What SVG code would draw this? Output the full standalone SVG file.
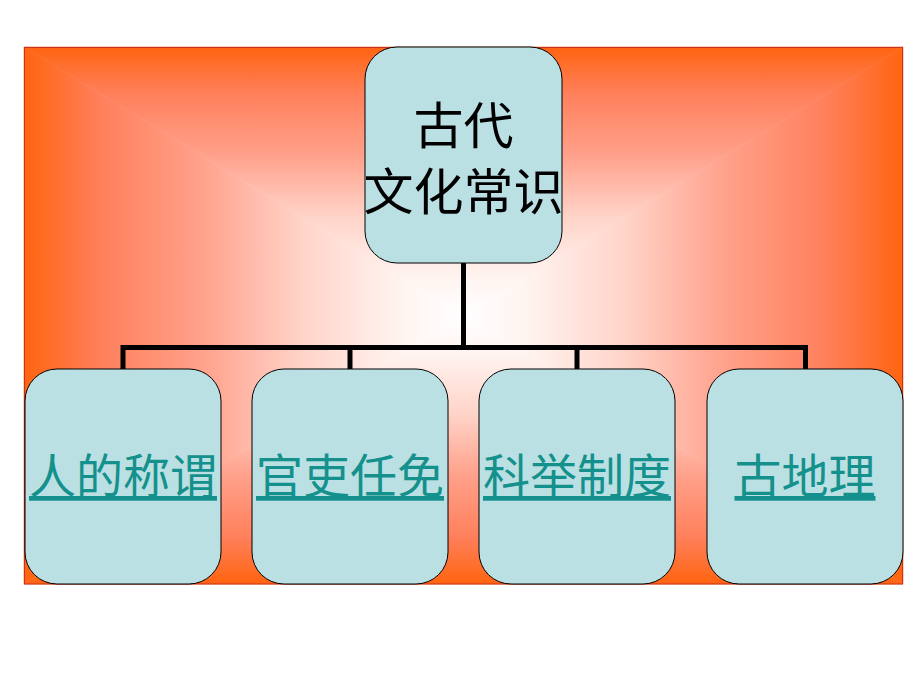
<svg xmlns="http://www.w3.org/2000/svg" width="920" height="690" viewBox="0 0 920 690">
<defs>
<linearGradient id="gt" gradientUnits="userSpaceOnUse" x1="0" y1="47" x2="0" y2="315.5">
<stop offset="0" stop-color="#FF6410"/><stop offset="0.17" stop-color="#FF7F5A"/><stop offset="0.4" stop-color="#FFA08A"/><stop offset="0.63" stop-color="#FFD3C8"/><stop offset="0.85" stop-color="#FFF3EF"/><stop offset="1" stop-color="#FFFFFF"/>
</linearGradient>
<linearGradient id="gb" gradientUnits="userSpaceOnUse" x1="0" y1="584" x2="0" y2="315.5">
<stop offset="0" stop-color="#FF6410"/><stop offset="0.17" stop-color="#FF7F5A"/><stop offset="0.4" stop-color="#FFA08A"/><stop offset="0.63" stop-color="#FFD3C8"/><stop offset="0.85" stop-color="#FFF3EF"/><stop offset="1" stop-color="#FFFFFF"/>
</linearGradient>
<linearGradient id="gl" gradientUnits="userSpaceOnUse" x1="24" y1="0" x2="463.5" y2="0">
<stop offset="0" stop-color="#FF6410"/><stop offset="0.17" stop-color="#FF7F5A"/><stop offset="0.4" stop-color="#FFA08A"/><stop offset="0.63" stop-color="#FFD3C8"/><stop offset="0.85" stop-color="#FFF3EF"/><stop offset="1" stop-color="#FFFFFF"/>
</linearGradient>
<linearGradient id="gr" gradientUnits="userSpaceOnUse" x1="903" y1="0" x2="463.5" y2="0">
<stop offset="0" stop-color="#FF6410"/><stop offset="0.17" stop-color="#FF7F5A"/><stop offset="0.4" stop-color="#FFA08A"/><stop offset="0.63" stop-color="#FFD3C8"/><stop offset="0.85" stop-color="#FFF3EF"/><stop offset="1" stop-color="#FFFFFF"/>
</linearGradient>
<style>
.node{fill:#BBE0E3;stroke:#000;stroke-width:1}
.top{font-family:"Noto Sans CJK SC",sans-serif;font-size:50px;fill:#000;text-anchor:middle}
.lbl{font-family:"Noto Sans CJK SC",sans-serif;font-size:47px;fill:#14918C;text-anchor:middle;text-decoration:underline}
.conn{stroke:#000;stroke-width:5;fill:none}
</style>
</defs>
<g id="background">
<polygon points="24,47 24,584 463.5,315.5" fill="url(#gl)" stroke="url(#gl)" stroke-width="0.6"/>
<polygon points="903,47 903,584 463.5,315.5" fill="url(#gr)" stroke="url(#gr)" stroke-width="0.6"/>
<polygon points="24,47 903,47 463.5,315.5" fill="url(#gt)" stroke="url(#gt)" stroke-width="0.6"/>
<polygon points="24,584 903,584 463.5,315.5" fill="url(#gb)" stroke="url(#gb)" stroke-width="0.6"/>
<rect x="24.5" y="47.5" width="878" height="536.5" fill="none" stroke="#C8321E" stroke-width="1"/>
</g>
<g id="connectors">
<path class="conn" d="M463.5,263 V347.5"/>
<path class="conn" d="M123,370 V347.5 H805.5 V370"/>
<path class="conn" d="M350,347.5 V370"/>
<path class="conn" d="M577,347.5 V370"/>
</g>
<g id="root">
<rect class="node" x="365" y="47" width="197" height="216" rx="32" ry="32"/>
<text class="top" x="463.5" y="144">古代</text>
<text class="top" x="463.5" y="210">文化常识</text>
</g>
<g id="n1">
<rect class="node" x="25" y="369" width="196" height="215" rx="32" ry="32"/>
<text class="lbl" x="123" y="493">人的称谓</text>
</g>
<g id="n2">
<rect class="node" x="252" y="369" width="196" height="215" rx="32" ry="32"/>
<text class="lbl" x="350" y="493">官吏任免</text>
</g>
<g id="n3">
<rect class="node" x="479" y="369" width="196" height="215" rx="32" ry="32"/>
<text class="lbl" x="577" y="493">科举制度</text>
</g>
<g id="n4">
<rect class="node" x="707" y="369" width="196" height="215" rx="32" ry="32"/>
<text class="lbl" x="805" y="493">古地理</text>
</g>
</svg>
